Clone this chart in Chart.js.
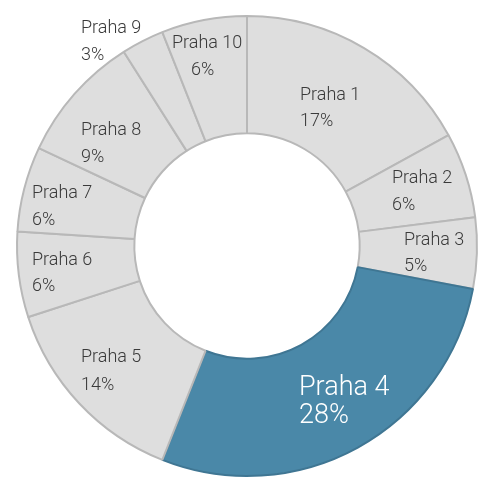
<!DOCTYPE html>
<html>
<head>
<meta charset="utf-8">
<script src="https://cdn.jsdelivr.net/npm/chart.js@4/dist/chart.umd.min.js"></script>
<style>
  html, body { margin: 0; padding: 0; background: #fff; }
  #wrap { width: 481px; height: 480px; }
</style>
</head>
<body>
<div id="wrap"><canvas id="donut" width="481" height="480"></canvas></div>
<script>
const districts = ["Praha 1", "Praha 2", "Praha 3", "Praha 4", "Praha 5", "Praha 6", "Praha 7", "Praha 8", "Praha 9", "Praha 10"];
const shares = [17, 6, 5, 28, 14, 6, 6, 9, 3, 6];
const highlight = "Praha 4";

// baseline of the name line and of the percent line, hand placed like the original
const labelPos = {
    "Praha 1": [300, 100, 126], "Praha 2": [392, 183, 210], "Praha 3": [404, 245, 271],
    "Praha 4": [299, 395, 423], "Praha 5": [81, 362, 390], "Praha 6": [32, 265, 291],
    "Praha 7": [32, 198, 225], "Praha 8": [81, 135, 162], "Praha 9": [81, 33, 60],
    "Praha 10": [172, 48, 75]
};

const labelPlugin = {
    id: "sliceLabels",
    afterDatasetsDraw(chart) {
        const c = chart.ctx;
        c.save();
        c.textBaseline = "alphabetic";
        districts.forEach((name, i) => {
            const p = labelPos[name];
            const big = name === highlight;
            c.fillStyle = big ? "#ffffff" : "#3a3a3a";
            c.font = (big ? "300 27px" : "300 18px") + " Roboto";
            c.fillText(name, p[0], p[1]);
            // Praha 10 has its percent nudged right
            const px = name === "Praha 10" ? 191 : p[0];
            c.fillText(shares[i] + "%", px, p[2]);
        });
        c.restore();
    }
};

new Chart(document.getElementById("donut"), {
    type: "doughnut",
    data: {
        labels: districts,
        datasets: [{
            data: shares,
            backgroundColor: districts.map(d => d === highlight ? "#4a88a8" : "#dedede"),
            borderColor: districts.map(d => d === highlight ? "#3f7693" : "#b8b8b8"),
            borderWidth: 2
        }]
    },
    options: {
        responsive: false,
        animation: false,
        cutout: "49%",
        layout: { padding: { left: 16, right: 3, top: 15, bottom: 3 } },
        plugins: { legend: { display: false }, tooltip: { enabled: false } }
    },
    plugins: [labelPlugin]
});
</script>
</body>
</html>
